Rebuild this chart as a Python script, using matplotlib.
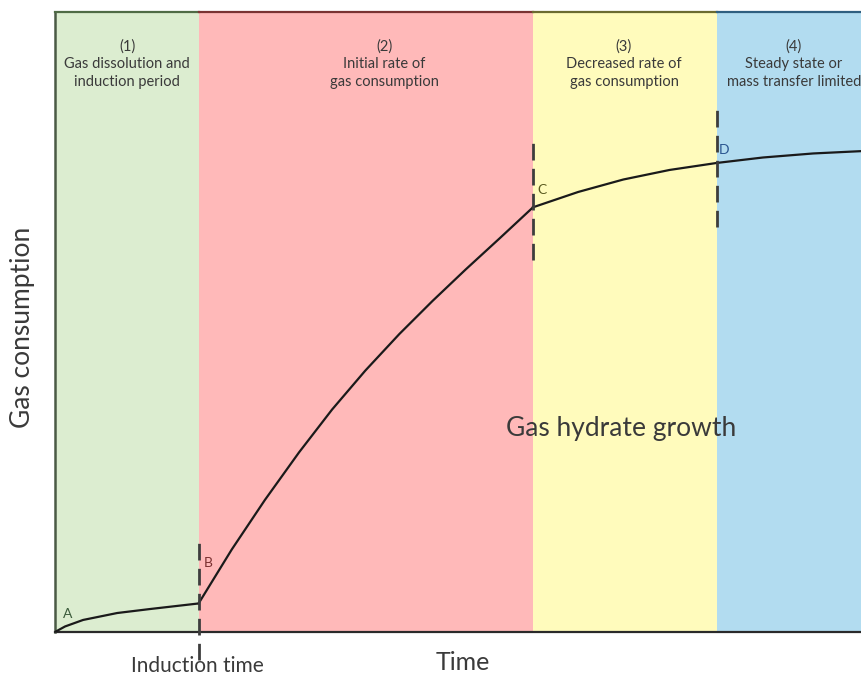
import matplotlib.pyplot as plt

plt.rcParams['font.family'] = ['Lato', 'DejaVu Sans']

# curve (time, gas consumption), arbitrary units 0-100
induction_t = [0.0, 1.24, 3.47, 7.69, 11.79, 17.74]
induction_g = [0.0, 0.89, 1.94, 3.06, 3.71, 4.6]
growth_t = [17.74, 21.84, 25.93, 30.15, 34.24, 38.34, 42.56, 46.65, 50.74,
            54.96, 59.06]
growth_g = [4.6, 13.31, 21.29, 28.97, 35.89, 42.16, 48.08, 53.40, 58.47,
            63.52, 68.5]
late_t = [59.06, 64.64, 70.22, 75.93, 81.76, 87.47, 93.67, 100.0]
late_g = [68.5, 70.97, 72.98, 74.52, 75.65, 76.53, 77.18, 77.58]

# stage boundaries
bounds = [0.0, 17.74, 59.06, 81.76, 100.0]
stage_labels = ['(1)\nGas dissolution and\ninduction period',
                '(2)\nInitial rate of\ngas consumption',
                '(3)\nDecreased rate of\ngas consumption',
                '(4)\nSteady state or\nmass transfer limited']
stage_label_x = [8.9, 40.7, 70.3, 91.3]
fill_colors = ['#dcedd0', '#ffb9b9', '#fffbbc', '#b2dcf0']
edge_colors = ['#4f6b45', '#7a3333', '#6b6b30', '#2f5f80']

points = ['A', 'B', 'C', 'D']
point_x = [1.6, 18.9, 60.2, 82.6]
point_y = [2.9, 11.1, 71.3, 77.7]
point_colors = ['#3a5a3a', '#7a3030', '#5a5a20', '#2a5590']

# dashed markers at B, C, D
mark_x = [17.74, 59.06, 81.76]
mark_lo = [-4.5, 60.0, 65.3]
mark_hi = [15.2, 79.0, 84.5]

fig = plt.figure(figsize=(8.61, 6.77), dpi=100)
ax = fig.add_axes([0.0639, 0.0665, 0.94, 0.9158])
ax.set_xlim(0, 100)
ax.set_ylim(0, 100)

for i in range(4):
    ax.axvspan(bounds[i], bounds[i + 1], color=fill_colors[i], lw=0, zorder=0)
    ax.plot([bounds[i], bounds[i + 1]], [100, 100], color=edge_colors[i],
            lw=1.6, clip_on=False, zorder=3)
    ax.text(stage_label_x[i], 95.6, stage_labels[i], ha='center', va='top',
            fontsize=10.5, color='#3a3a3a', linespacing=1.33)

ax.plot(induction_t, induction_g, color='#1a1a1a', lw=1.6, zorder=4)
ax.plot(growth_t, growth_g, color='#1a1a1a', lw=1.6, zorder=4)
ax.plot(late_t, late_g, color='#1a1a1a', lw=1.6, zorder=4, clip_on=False)

for x, lo, hi in zip(mark_x, mark_lo, mark_hi):
    ax.plot([x, x], [lo, hi], color='#3d3d3d', lw=2, ls=(0, (6, 3)),
            clip_on=False, zorder=5)

for p, x, y, c in zip(points, point_x, point_y, point_colors):
    ax.text(x, y, p, fontsize=10, color=c, ha='center', va='center')

ax.text(70.0, 32.9, 'Gas hydrate growth', fontsize=19, color='#3a3a3a',
        ha='center', va='center')

for s in ['top', 'right']:
    ax.spines[s].set_visible(False)
ax.spines['left'].set_color('#4a5a45')
ax.spines['left'].set_linewidth(1.8)
ax.spines['bottom'].set_color('#2a2a2a')
ax.spines['bottom'].set_linewidth(1.6)
ax.set_xticks([])
ax.set_yticks([])

fig.text(0.0256, 0.517, 'Gas consumption', rotation=90, fontsize=19,
         color='#3a3a3a', ha='center', va='center')
fig.text(0.5377, 0.0207, 'Time', fontsize=18, color='#3a3a3a',
         ha='center', va='center')
fig.text(0.2288, 0.0163, 'Induction time', fontsize=15, color='#3a3a3a',
         ha='center', va='center')

fig.savefig('out.png', dpi=100)
